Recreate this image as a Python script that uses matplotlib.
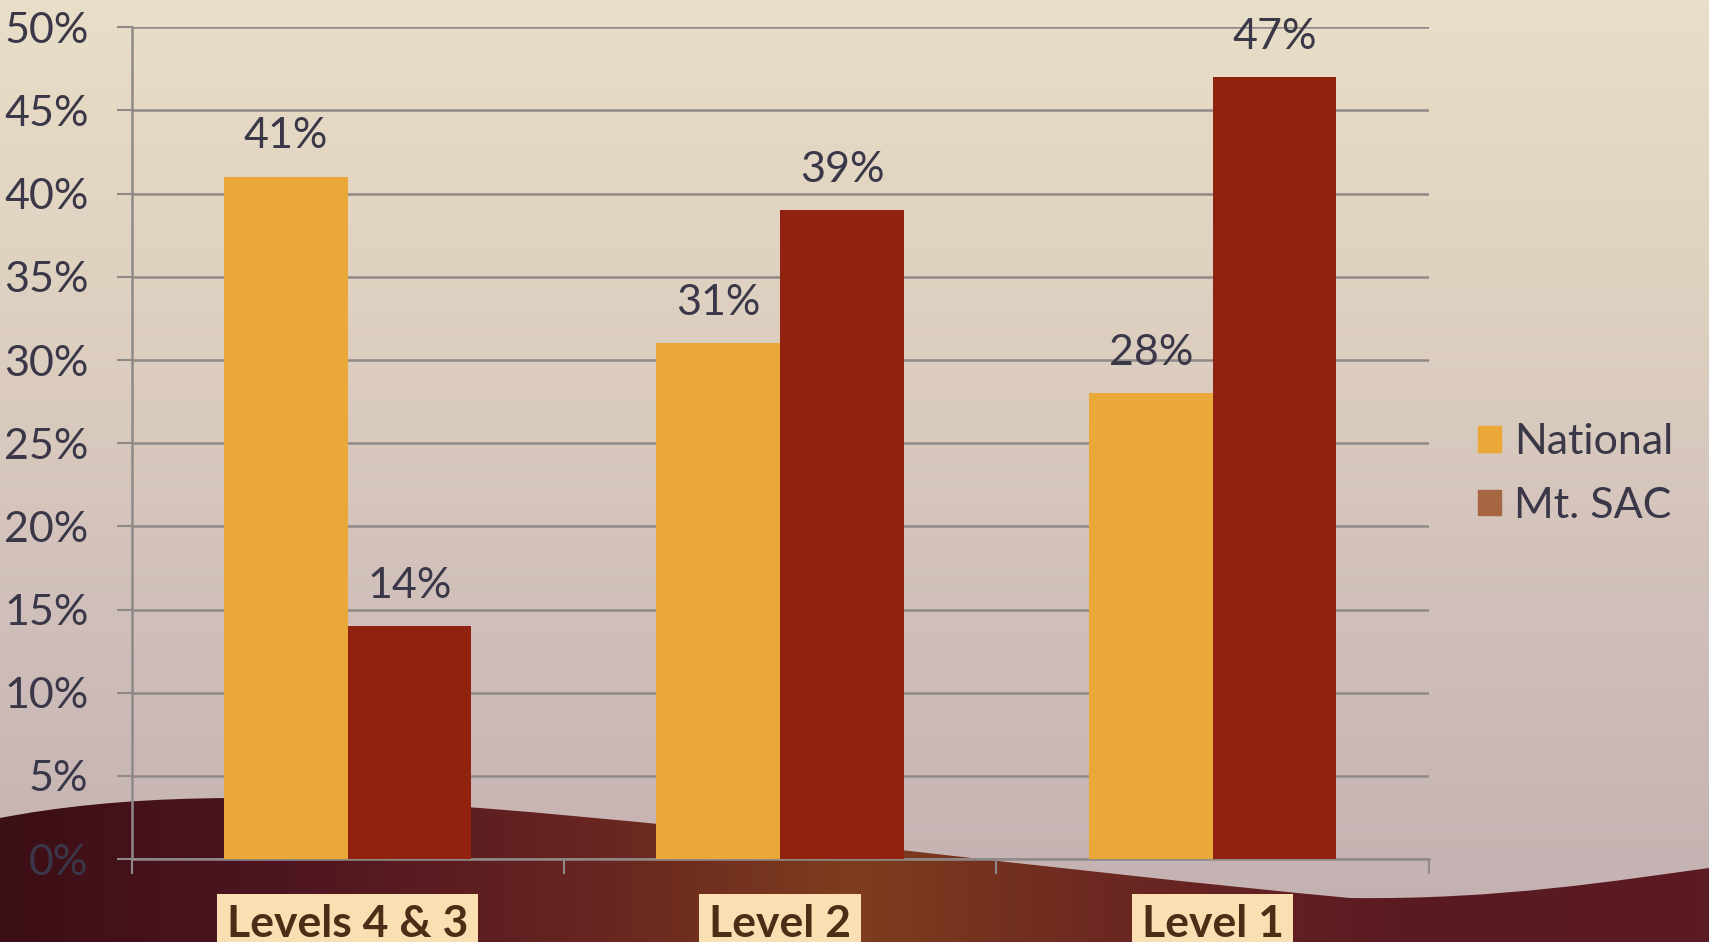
import matplotlib.pyplot as plt
import numpy as np
from matplotlib.patches import Patch, PathPatch
from matplotlib.path import Path
from matplotlib.colors import LinearSegmentedColormap

categories = ["Levels 4 & 3", "Level 2", "Level 1"]
national = [41, 31, 28]
mtsac = [14, 39, 47]
series_names = ["National", "Mt. SAC"]

plt.rcParams['font.family'] = ['Lato', 'DejaVu Sans']

W, H = 1709, 942
fig = plt.figure(figsize=(W / 100, H / 100), dpi=100)

# background: vertical beige -> mauve gradient
bg = fig.add_axes([0, 0, 1, 1], zorder=-10)
bg.set_xlim(0, W)
bg.set_ylim(H, 0)
bg.axis('off')
bg_cmap = LinearSegmentedColormap.from_list(
    'bg', ['#E9DEC7', '#DED0C0', '#CFBEBA', '#C3B0B1'])
grad = np.linspace(0, 1, 256).reshape(-1, 1)
bg.imshow(grad, cmap=bg_cmap, extent=[0, W, H, 0], aspect='auto')

# dark red wave at the bottom (bezier curve)
verts = [(0, 818),
         (120, 795), (260, 792), (480, 808),
         (760, 830), (1050, 870), (1350, 898),
         (1500, 900), (1620, 880), (1709, 868),
         (W, H), (0, H), (0, 818)]
codes = [Path.MOVETO,
         Path.CURVE4, Path.CURVE4, Path.CURVE4,
         Path.CURVE4, Path.CURVE4, Path.CURVE4,
         Path.CURVE4, Path.CURVE4, Path.CURVE4,
         Path.LINETO, Path.LINETO, Path.CLOSEPOLY]
wave = PathPatch(Path(verts, codes), fc='none', ec='none')
bg.add_patch(wave)
wave_cmap = LinearSegmentedColormap.from_list(
    'wave', ['#3C0E16', '#4E1620', '#662321', '#7E3D1E', '#6A2622', '#5A1A22', '#5C1A22'])
hgrad = np.linspace(0, 1, 256).reshape(1, -1)
im = bg.imshow(hgrad, cmap=wave_cmap, extent=[0, W, H, 780], aspect='auto')
im.set_clip_path(wave)

# main chart
ax = fig.add_axes([0.077, 0.088, 0.759, 0.883])
ax.set_facecolor('none')
x = np.arange(len(categories))
w = 0.286
b1 = ax.bar(x - w / 2, national, w, color='#EAA838', zorder=3)
b2 = ax.bar(x + w / 2, mtsac, w, color='#90220F', zorder=3)

ax.set_ylim(0, 50)
ax.set_xlim(-0.5, 2.5)
ax.set_yticks(range(0, 51, 5))
ax.set_yticklabels([f"{v}%" for v in range(0, 51, 5)], fontsize=31, color='#3A3848')
ax.yaxis.grid(True, color='#8F8A88', linewidth=1.8, zorder=0)
ax.tick_params(axis='y', length=11, width=1.5, color='#8F8A88', pad=20)

ax.set_xticks([-0.5, 0.5, 1.5, 2.5])
ax.set_xticklabels([])
ax.tick_params(axis='x', length=11, width=1.5, color='#8F8A88')

for side in ['top', 'right']:
    ax.spines[side].set_visible(False)
for side in ['left', 'bottom']:
    ax.spines[side].set_color('#8F8A88')
    ax.spines[side].set_linewidth(1.8)

for bars, vals in [(b1, national), (b2, mtsac)]:
    for rect, v in zip(bars, vals):
        ax.text(rect.get_x() + rect.get_width() / 2, v + 1.3, f"{v}%",
                ha='center', va='bottom', fontsize=31, color='#3A3848')

for i, c in enumerate(categories):
    ax.text(i, -0.078, c, transform=ax.get_xaxis_transform(), ha='center',
            va='center', fontsize=32, fontweight='bold', color='#4A2E16',
            bbox=dict(boxstyle='square,pad=0.22', fc='#F9DFB1', ec='none'))

handles = [Patch(color='#EAA838'), Patch(color='#A66642')]
fig.legend(handles, series_names, loc='center left', bbox_to_anchor=(0.842, 0.497),
           frameon=False, fontsize=31, labelcolor='#3A3848',
           handlelength=0.55, handleheight=0.55, handletextpad=0.3, labelspacing=0.6)

fig.savefig('out.png', dpi=100)
